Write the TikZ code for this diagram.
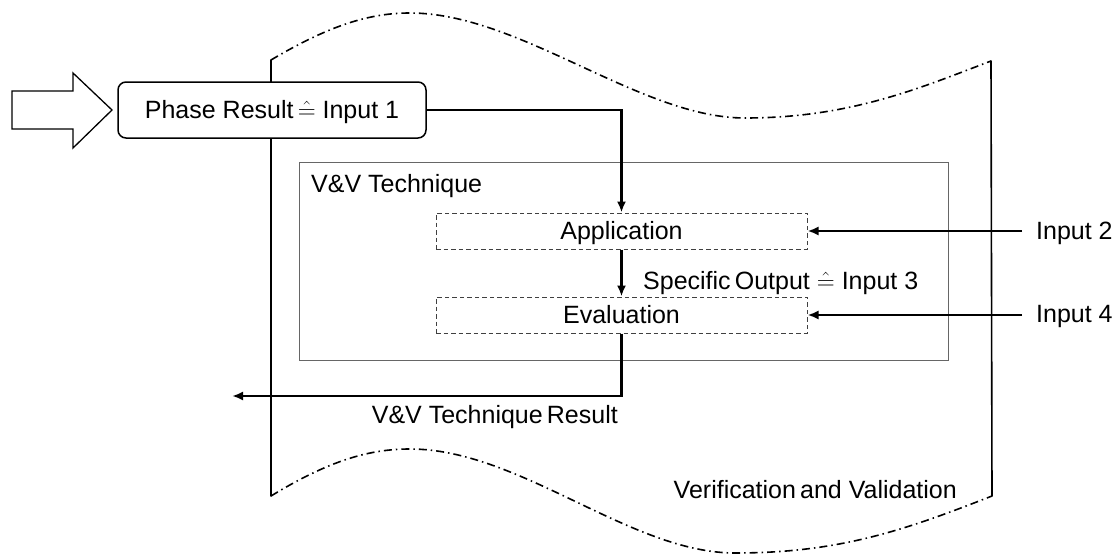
\documentclass[tikz,border=0pt]{standalone}
\usepackage{fontspec}
\setmainfont{Liberation Sans}
\usetikzlibrary{arrows.meta}
\newcommand{\corr}{\ensuremath{\mathrel{\hat{=}}}}
\begin{document}
\begin{tikzpicture}[x=1pt,y=-1pt,
  every node/.style={font=\fontsize{25}{29}\selectfont, inner sep=0pt, text height=17.5pt, text depth=0pt},
  flow/.style={line width=2.4pt, -{Latex[length=11pt,width=9pt]}},
  bound/.style={line width=1.6pt, line cap=round, line join=round},
  wave/.style={line width=1.6pt, dash pattern=on 8pt off 4pt on 1.5pt off 4pt},
  phasebox/.style={draw, line width=1.5pt, rounded corners=8pt, fill=white,
    minimum width=308pt, minimum height=56pt},
  techbox/.style={draw=black!60, line width=1pt, minimum width=649pt, minimum height=198pt},
  stagebox/.style={draw=black!75, line width=1pt, dash pattern=on 4.5pt off 3pt,
    minimum width=371pt, minimum height=36pt}
]
\useasboundingbox (0,0) rectangle (1120,554);

% corner points of the V&V region
\coordinate (tl) at (271,60);
\coordinate (tr) at (991,61);
\coordinate (bl) at (271,496);
\coordinate (br) at (992,496);

% side borders
\draw[bound] (tl) -- (bl);
\draw[bound] (tr) -- (br);

% wavy upper and lower borders
\draw[wave] (tl) .. controls (330,25) and (370,13) .. (410,13)
  .. controls (520,13) and (640,118) .. (745,118)
  .. controls (850,118) and (920,88) .. (tr);
\draw[wave] (bl) .. controls (330,460) and (370,449) .. (410,449)
  .. controls (520,449) and (630,553) .. (735,553)
  .. controls (840,553) and (905,530) .. (br);

% incoming block arrow
\draw[line width=1.3pt, line join=miter, fill=white]
  (12,91) -- (73,91) -- (73,73) -- (112,110) -- (73,148) -- (73,129) -- (12,129) -- cycle;

% phase result
\node[phasebox] (phase) at (272,110) {Phase Result\,\corr\ Input 1};

% V&V technique frame
\node[techbox] (vv) at (623.5,261) {};
\node[anchor=west] (vvlabel) at (311,184) {V\&V Technique};

% stages
\node[stagebox] (app) at (621.5,231) {Application};
\node[stagebox] (eval) at (621.5,315) {Evaluation};

% external inputs
\node[anchor=west] (in2) at (1036,231) {Input 2};
\node[anchor=west] (in4) at (1036,314) {Input 4};

% labels
\node[anchor=west] (spec) at (643,280.5) {Specific\,Output \corr\ Input 3};
\node[anchor=east] (res) at (618,414.5) {V\&V Technique\,Result};
\node[anchor=east] (vvname) at (957,490) {Verification\,and Validation};

% connectors
\coordinate (outend) at (232,396);
\draw[flow] (phase.east) -| (app.north);
\draw[flow] (app.south) -- (eval.north);
\draw[flow, shorten <=14pt] (in2.west |- app.east) -- (app.east);
\draw[flow, shorten <=14pt] (in4.west |- eval.east) -- (eval.east);
\draw[flow] (eval.south) |- (outend);
\end{tikzpicture}
\end{document}
